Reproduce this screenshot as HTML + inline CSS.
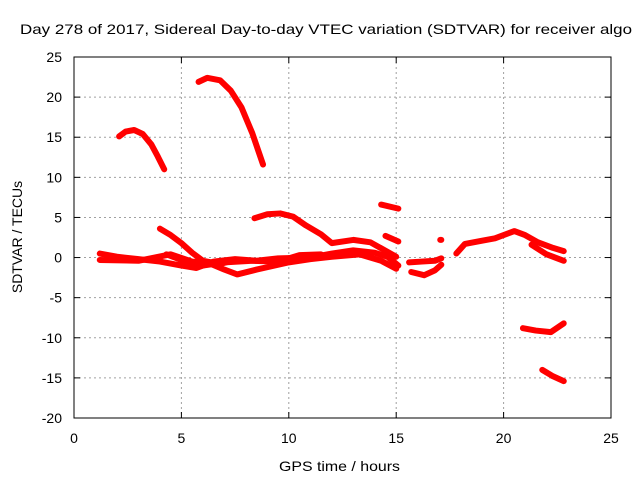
<!DOCTYPE html>
<html><head><meta charset="utf-8"><style>
body{margin:0;background:#fff;}
svg{display:block;font-family:"Liberation Sans",sans-serif;}
</style></head><body>
<svg id="chart" width="640" height="480" viewBox="0 0 640 480" xmlns="http://www.w3.org/2000/svg">
<rect width="640" height="480" fill="#fff"/>
<text x="20" y="34" font-size="14" textLength="612" lengthAdjust="spacingAndGlyphs">Day 278 of 2017, Sidereal Day-to-day VTEC variation (SDTVAR) for receiver algo</text>
<g id="grid"></g>
<g id="ticks"></g>
<g id="series"></g>
<rect x="74" y="57" width="537" height="361" fill="none" stroke="#000" stroke-width="1"/>
<text x="279" y="471" font-size="14" textLength="121" lengthAdjust="spacingAndGlyphs">GPS time / hours</text>
<text transform="translate(22,237) rotate(-90)" font-size="14" text-anchor="middle">SDTVAR / TECUs</text>
</svg>
<script>
const xTicks=[0,5,10,15,20,25];
const yTicks=[-20,-15,-10,-5,0,5,10,15,20,25];
const trackA=[[2.1,15.1],[2.4,15.7],[2.8,15.9],[3.2,15.4],[3.6,14.1],[3.9,12.6],[4.2,11.0]];
const trackB=[[5.8,21.9],[6.2,22.4],[6.8,22.1],[7.3,20.8],[7.8,18.7],[8.3,15.5],[8.8,11.6]];
const trackC=[[8.4,4.9],[9,5.4],[9.6,5.5],[10.2,5.1],[10.8,4.0],[11.5,2.9],[12,1.8],[13,2.2],[13.8,1.9],[14.4,1.0],[15,0.1]];
const trackD=[[14.5,2.7],[15.1,2.0]];
const trackE=[[14.3,6.6],[15.1,6.1]];
const trackF=[[4.0,3.6],[4.5,2.8],[5,1.8],[5.5,0.6],[6,-0.4],[6.8,-0.8],[7.5,-0.3]];
const trackG=[[1.2,0.5],[2,0.1],[3,-0.2],[4,-0.5],[5,-1.0],[5.7,-1.3],[6.5,-0.5],[7.5,-0.2],[8.5,-0.4],[9.5,-0.1],[11,0.0],[12,0.5],[13,0.9],[14,0.6],[14.6,0.1],[15.1,-1.0]];
const trackH=[[1.2,-0.3],[3,-0.4],[4.5,0.4],[5.5,-0.5],[6.2,-0.6],[7,-1.5],[7.6,-2.1],[8.5,-1.5],[10,-0.6],[11,-0.2],[12,0.1],[13.3,0.4],[14.3,-0.4],[15.0,-1.4]];
const trackI=[[4.3,0.4],[5.2,-0.5],[6,-1.0],[7,-0.6],[8.3,-0.4],[9.5,-0.5],[10.5,0.3],[11.5,0.4]];
const trackJ=[[15.6,-0.6],[16.2,-0.5],[16.8,-0.4],[17.1,-0.1]];
const trackK=[[15.7,-1.8],[16.3,-2.2],[16.8,-1.6],[17.1,-0.9]];
const trackL=[[17.05,2.2],[17.1,2.2]];
const trackM=[[17.8,0.5],[18.2,1.7],[19,2.1],[19.6,2.4],[20.5,3.3],[21,2.8],[21.6,1.9],[22.3,1.2],[22.8,0.8]];
const trackN=[[21.3,1.6],[22,0.4],[22.8,-0.4]];
const trackO=[[20.9,-8.8],[21.5,-9.1],[22.2,-9.3],[22.8,-8.2]];
const trackP=[[21.8,-14.0],[22.3,-14.8],[22.8,-15.4]];
const tracks=[trackA,trackB,trackC,trackD,trackE,trackF,trackG,trackH,trackI,trackJ,trackK,trackL,trackM,trackN,trackO,trackP];
const X0=74,X1=611,Y0=418,Y1=57;
function sx(v){return X0+(v-0)/(25-0)*(X1-X0);}
function sy(v){return Y0-(v+20)/45*(Y0-Y1);}
const NS="http://www.w3.org/2000/svg";
const grid=document.getElementById('grid'),ticks=document.getElementById('ticks'),ser=document.getElementById('series');
function mk(t,a){const e=document.createElementNS(NS,t);for(const k in a)e.setAttribute(k,a[k]);return e;}
xTicks.forEach(v=>{
 const x=sx(v);
 if(v>0&&v<25){const g=mk('line',{x1:x,x2:x,y1:Y1,y2:Y0,stroke:'#a0a0a0','stroke-dasharray':'2,3'});
 
 
 grid.appendChild(g);}
 const t=mk('text',{x:x,y:443,'font-size':14,'text-anchor':'middle'});t.textContent=v;
 
 
 ticks.appendChild(t);
 ticks.appendChild(mk('line',{x1:x,x2:x,y1:Y0,y2:Y0-6,stroke:'#000'}));
 ticks.appendChild(mk('line',{x1:x,x2:x,y1:Y1,y2:Y1+6,stroke:'#000'}));
});
yTicks.forEach(v=>{
 const y=sy(v);
 if(v>-20&&v<25){const g=mk('line',{x1:X0,x2:X1,y1:y,y2:y,stroke:'#a0a0a0','stroke-dasharray':'2,3'});
 
 
 grid.appendChild(g);}
 const t=mk('text',{x:62,y:y+5,'font-size':14,'text-anchor':'end'});t.textContent=v;
 
 
 ticks.appendChild(t);
 ticks.appendChild(mk('line',{x1:X0,x2:X0+6,y1:y,y2:y,stroke:'#000'}));
 ticks.appendChild(mk('line',{x1:X1,x2:X1-6,y1:y,y2:y,stroke:'#000'}));
});
tracks.forEach(tr=>{
 const p=mk('polyline',{points:tr.map(d=>sx(d[0])+','+sy(d[1])).join(' '),fill:'none',stroke:'#f00','stroke-width':6,'stroke-linejoin':'round','stroke-linecap':'round'});
 
 
 ser.appendChild(p);
});
</script>
</body></html>
